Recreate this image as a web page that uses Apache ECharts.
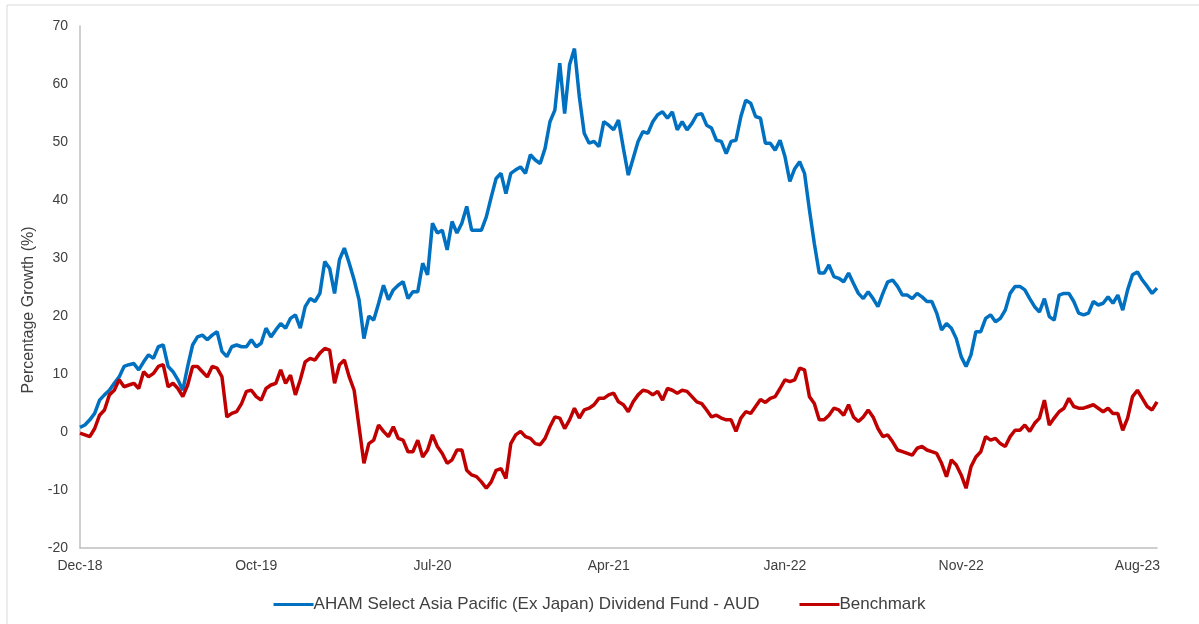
<!DOCTYPE html>
<html>
<head>
<meta charset="utf-8">
<script src="https://cdn.jsdelivr.net/npm/echarts@6/dist/echarts.min.js"></script>
<style>
  html, body { margin: 0; padding: 0; background: #fff; }
  #chart { width: 1199px; height: 624px; }
</style>
</head>
<body>
<div id="chart"></div>
<script>
// tick labels shown along the x axis, one every labelStep points
const tickLabels = ['Dec-18', 'Oct-19', 'Jul-20', 'Apr-21', 'Jan-22', 'Nov-22', 'Aug-23']
const labelStep = 36

const fundName = 'AHAM Select Asia Pacific (Ex Japan) Dividend Fund - AUD'
const benchName = 'Benchmark'

// cumulative growth (%)
const fund = [
  0.8, 1.2, 2.1, 3.2, 5.5, 6.4, 7.2, 8.4, 9.5, 11.3, 11.6, 11.8, 10.7, 12.1, 13.3, 12.7, 14.7, 15.0, 11.3, 10.4,
  9.0, 7.2, 11.3, 15.0, 16.4, 16.7, 15.9, 16.7, 17.3, 13.9, 13.0, 14.7, 15.0, 14.7, 14.7, 15.9, 14.7, 15.3, 17.9, 16.4,
  17.6, 18.7, 17.9, 19.6, 20.2, 17.9, 21.6, 23.0, 22.5, 23.9, 29.4, 28.2, 23.9, 29.7, 31.7, 29.1, 26.2, 22.8, 16.1, 20.0,
  19.3, 22.2, 25.3, 22.8, 24.5, 25.3, 25.9, 23.0, 24.2, 24.2, 29.1, 27.1, 36.0, 34.3, 34.8, 31.4, 36.3, 34.3, 36.0, 38.9,
  34.8, 34.8, 34.8, 37.1, 40.5, 43.7, 44.6, 41.1, 44.6, 45.2, 45.7, 44.6, 47.8, 46.9, 46.3, 48.9, 53.5, 55.5, 63.6, 54.9,
  63.3, 66.1, 57.8, 51.5, 49.8, 50.1, 49.2, 53.5, 52.9, 52.1, 53.8, 48.9, 44.3, 47.2, 50.1, 51.8, 51.5, 53.5, 54.7, 55.2,
  54.1, 55.2, 52.1, 53.5, 52.1, 53.2, 54.7, 54.9, 52.9, 52.4, 50.3, 50.1, 48.0, 50.1, 50.3, 54.4, 57.2, 56.7, 54.4, 54.1,
  49.8, 49.8, 48.6, 50.3, 47.5, 43.2, 45.4, 46.6, 44.6, 38.3, 32.5, 27.4, 27.4, 28.8, 26.8, 26.5, 25.9, 27.4, 25.6, 23.9,
  23.0, 24.2, 23.0, 21.6, 23.9, 25.9, 26.2, 25.1, 23.6, 23.6, 23.0, 23.9, 23.3, 22.5, 22.5, 20.5, 17.6, 18.7, 17.9, 16.1,
  13.0, 11.3, 13.3, 17.3, 17.3, 19.6, 20.2, 19.0, 19.6, 21.0, 23.9, 25.1, 25.1, 24.5, 23.0, 21.6, 20.7, 23.0, 19.9, 19.3,
  23.6, 23.9, 23.9, 22.5, 20.5, 20.2, 20.5, 22.5, 21.9, 22.2, 23.3, 22.2, 23.6, 21.0, 24.5, 27.1, 27.6, 26.2, 25.1, 23.9,
  24.8
]

const bench = [
  -0.2, -0.5, -0.8, 0.6, 2.9, 3.8, 6.4, 7.2, 9.0, 7.8, 8.1, 8.4, 7.5, 10.4, 9.5, 10.1, 11.3, 11.6, 7.8, 8.4,
  7.5, 6.1, 8.1, 11.3, 11.3, 10.4, 9.5, 11.3, 11.0, 9.5, 2.6, 3.2, 3.5, 4.9, 7.0, 7.2, 6.1, 5.5, 7.5, 8.1,
  8.4, 10.7, 8.4, 9.8, 6.4, 9.0, 12.1, 12.7, 12.4, 13.6, 14.4, 14.1, 8.4, 11.6, 12.4, 9.5, 7.2, 0.9, -5.4, -2.0,
  -1.4, 1.2, 0.1, -0.8, 0.9, -1.1, -1.4, -3.4, -3.4, -1.4, -4.3, -3.1, -0.5, -2.5, -3.7, -5.4, -4.8, -3.1, -3.1, -6.6,
  -7.4, -7.7, -8.6, -9.7, -8.6, -6.6, -6.3, -8.0, -2.0, -0.5, 0.1, -0.8, -1.1, -2.0, -2.2, -1.1, 0.9, 2.6, 2.4, 0.6,
  2.1, 4.1, 2.4, 3.8, 4.1, 4.7, 5.8, 5.8, 6.4, 6.7, 5.2, 4.7, 3.5, 5.2, 6.4, 7.2, 7.0, 6.4, 7.0, 5.5,
  7.5, 7.2, 6.7, 7.2, 7.0, 6.1, 5.2, 4.9, 3.8, 2.6, 2.9, 2.4, 2.1, 2.1, 0.1, 2.4, 3.5, 3.2, 4.4, 5.6,
  5.1, 5.8, 6.1, 7.5, 9.0, 8.7, 9.0, 11.0, 10.7, 6.1, 4.9, 2.1, 2.1, 2.9, 4.1, 3.8, 2.9, 4.7, 2.6, 1.8,
  2.6, 3.8, 2.6, 0.6, -0.8, -0.5, -1.7, -3.1, -3.4, -3.7, -4.0, -2.8, -2.5, -3.1, -3.4, -3.7, -5.4, -7.7, -4.8, -5.7,
  -7.4, -9.7, -6.0, -4.3, -3.4, -0.8, -1.4, -1.1, -2.0, -2.5, -0.8, 0.3, 0.3, 1.2, 0.1, 1.5, 2.4, 5.5, 1.2, 2.4,
  3.5, 4.1, 5.8, 4.4, 4.1, 4.1, 4.4, 4.7, 4.1, 3.5, 4.1, 3.2, 3.2, 0.3, 2.4, 6.1, 7.2, 5.8, 4.4, 3.8,
  5.2
]

const points = fund.map((v, i) => String(i))

const chart = echarts.init(document.getElementById('chart'))

chart.setOption({
  animation: false,
  textStyle: { fontFamily: 'Liberation Sans, Arial, sans-serif' },
  grid: { left: 80, right: 42, top: 26, bottom: 76, containLabel: false },
  graphic: [
    // light frame round the chart area (top and left edges visible)
    {
      type: 'rect',
      shape: { x: 7, y: 5, width: 1220, height: 660 },
      style: { fill: 'none', stroke: '#d9d9d9', lineWidth: 1 },
      silent: true
    },
    {
      type: 'text',
      x: 29,
      y: 310,
      rotation: Math.PI / 2,
      style: {
        text: 'Percentage Growth (%)',
        fill: '#404040',
        fontSize: 16,
        fontFamily: 'Liberation Sans, Arial, sans-serif',
        align: 'center',
        verticalAlign: 'middle'
      }
    }
  ],
  legend: {
    bottom: 6,
    left: 'center',
    itemWidth: 40,
    itemHeight: 3,
    itemGap: 40,
    icon: 'rect',
    textStyle: { color: '#404040', fontSize: 17, padding: [0, 0, 0, -5] },
    data: [fundName, benchName]
  },
  xAxis: {
    type: 'category',
    data: points,
    boundaryGap: false,
    axisLine: { onZero: false, lineStyle: { color: '#bfbfbf', width: 1.5 } },
    axisTick: { show: false },
    axisLabel: {
      interval: (i) => i % labelStep === 0,
      formatter: (v, i) => tickLabels[i / labelStep] || '',
      color: '#404040',
      fontSize: 14,
      margin: 11
    }
  },
  yAxis: {
    type: 'value',
    min: -20,
    max: 70,
    interval: 10,
    splitLine: { show: false },
    axisLine: { show: true, lineStyle: { color: '#bfbfbf', width: 1.5 } },
    axisTick: { show: false },
    axisLabel: { color: '#404040', fontSize: 14, margin: 12 }
  },
  series: [
    {
      name: fundName,
      type: 'line',
      data: fund,
      showSymbol: false,
      lineStyle: { color: '#0070c0', width: 3.5 },
      itemStyle: { color: '#0070c0' }
    },
    {
      name: benchName,
      type: 'line',
      data: bench,
      showSymbol: false,
      lineStyle: { color: '#c00000', width: 3.5 },
      itemStyle: { color: '#c00000' }
    }
  ]
})
</script>
</body>
</html>
